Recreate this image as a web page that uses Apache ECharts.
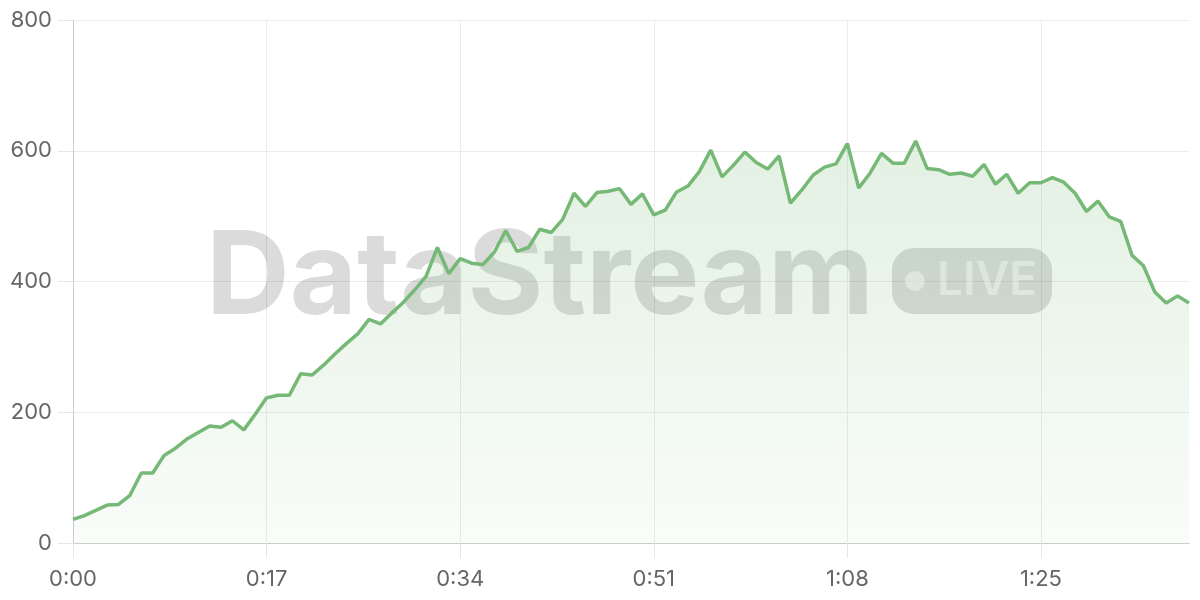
<!DOCTYPE html>
<html>
<head>
<meta charset="utf-8">
<script src="https://cdn.jsdelivr.net/npm/echarts@6/dist/echarts.min.js"></script>
<style>
html,body{margin:0;padding:0;background:#fff;}
#chart{width:1200px;height:600px;}
</style>
</head>
<body>
<div id="chart"></div>
<script>
// seconds elapsed for each sample
var seconds = [];
for (var s = 0; s <= 98; s++) seconds.push(s);

var values = [
  36, 42, 50, 58, 59, 73, 107, 107, 134, 145,
  159, 169, 179, 177, 187, 173, 197, 222, 226, 226,
  259, 257, 272, 289, 305, 320, 342, 335, 352, 368,
  387, 408, 452, 412, 435, 428, 426, 445, 478, 446,
  452, 480, 475, 495, 535, 515, 536, 538, 542, 518,
  534, 502, 509, 537, 546, 568, 601, 560, 578, 598,
  582, 572, 592, 520, 540, 563, 575, 580, 611, 543,
  566, 596, 581, 581, 615, 573, 571, 564, 566, 561,
  579, 549, 564, 535, 551, 551, 559, 552, 535, 507,
  523, 499, 492, 440, 424, 384, 367, 378, 367
];

var xTickSeconds = [0, 17, 34, 51, 68, 85];
var yTicks = [0, 200, 400, 600, 800];

function fmtTime(v) {
  var m = Math.floor(v / 60), sec = Math.round(v % 60);
  return m + ':' + (sec < 10 ? '0' : '') + sec;
}

var data = seconds.map(function (t, i) { return [t, values[i]]; });

var chart = echarts.init(document.getElementById('chart'), null, {renderer: 'canvas'});
var font = 'Inter, "Noto Sans", sans-serif';
chart.setOption({
  animation: false,
  backgroundColor: '#fff',
  grid: {left: 73, right: 11, top: 20, bottom: 57, containLabel: false, outerBoundsMode: 'none'},
  xAxis: {
    type: 'value', min: 0, max: seconds[seconds.length - 1], interval: 17,
    axisLine: {show: true, lineStyle: {color: '#cccccc', width: 1}},
    axisTick: {show: true, length: 15, customValues: xTickSeconds, lineStyle: {color: '#e6e6e6'}},
    axisLabel: {color: '#666', fontSize: 22, fontFamily: font, margin: 25,
      customValues: xTickSeconds,
      formatter: function (v) { return fmtTime(v); }},
    splitLine: {show: true, lineStyle: {color: '#ebebeb', width: 1}}
  },
  yAxis: {
    type: 'value', min: yTicks[0], max: yTicks[yTicks.length - 1], interval: 200,
    axisLine: {show: true, lineStyle: {color: '#cccccc', width: 1}},
    axisTick: {show: true, length: 15, lineStyle: {color: '#e6e6e6'}},
    axisLabel: {color: '#666', fontSize: 22, fontFamily: font, margin: 21},
    splitLine: {show: true, lineStyle: {color: '#ebebeb', width: 1}}
  },
  graphic: [
    {type: 'text', z: 1, left: 206, top: 221,
      style: {text: 'DataStream', font: 'bold 116px Inter, "Noto Sans", sans-serif',
        fill: 'rgba(0,0,0,0.14)'}},
    {type: 'rect', z: 1, shape: {x: 892, y: 248, width: 160, height: 66, r: 22},
      style: {fill: 'rgba(0,0,0,0.14)'}},
    {type: 'circle', z: 1, shape: {cx: 915, cy: 281, r: 10},
      style: {fill: 'rgba(255,255,255,0.55)'}},
    {type: 'text', z: 1, left: 937, top: 258,
      style: {text: 'LIVE', font: '600 46px Inter, "Noto Sans", sans-serif',
        fill: 'rgba(255,255,255,0.55)'}}
  ],
  series: [{
    type: 'line',
    data: data,
    showSymbol: false,
    smooth: false,
    z: 3,
    lineStyle: {color: '#76b976', width: 3.5},
    itemStyle: {color: '#76b976'},
    areaStyle: {
      color: new echarts.graphic.LinearGradient(0, 0, 0, 1, [
        {offset: 0, color: 'rgba(118,185,118,0.3)'},
        {offset: 1, color: 'rgba(118,185,118,0.06)'}
      ])
    }
  }]
});
</script>
</body>
</html>
